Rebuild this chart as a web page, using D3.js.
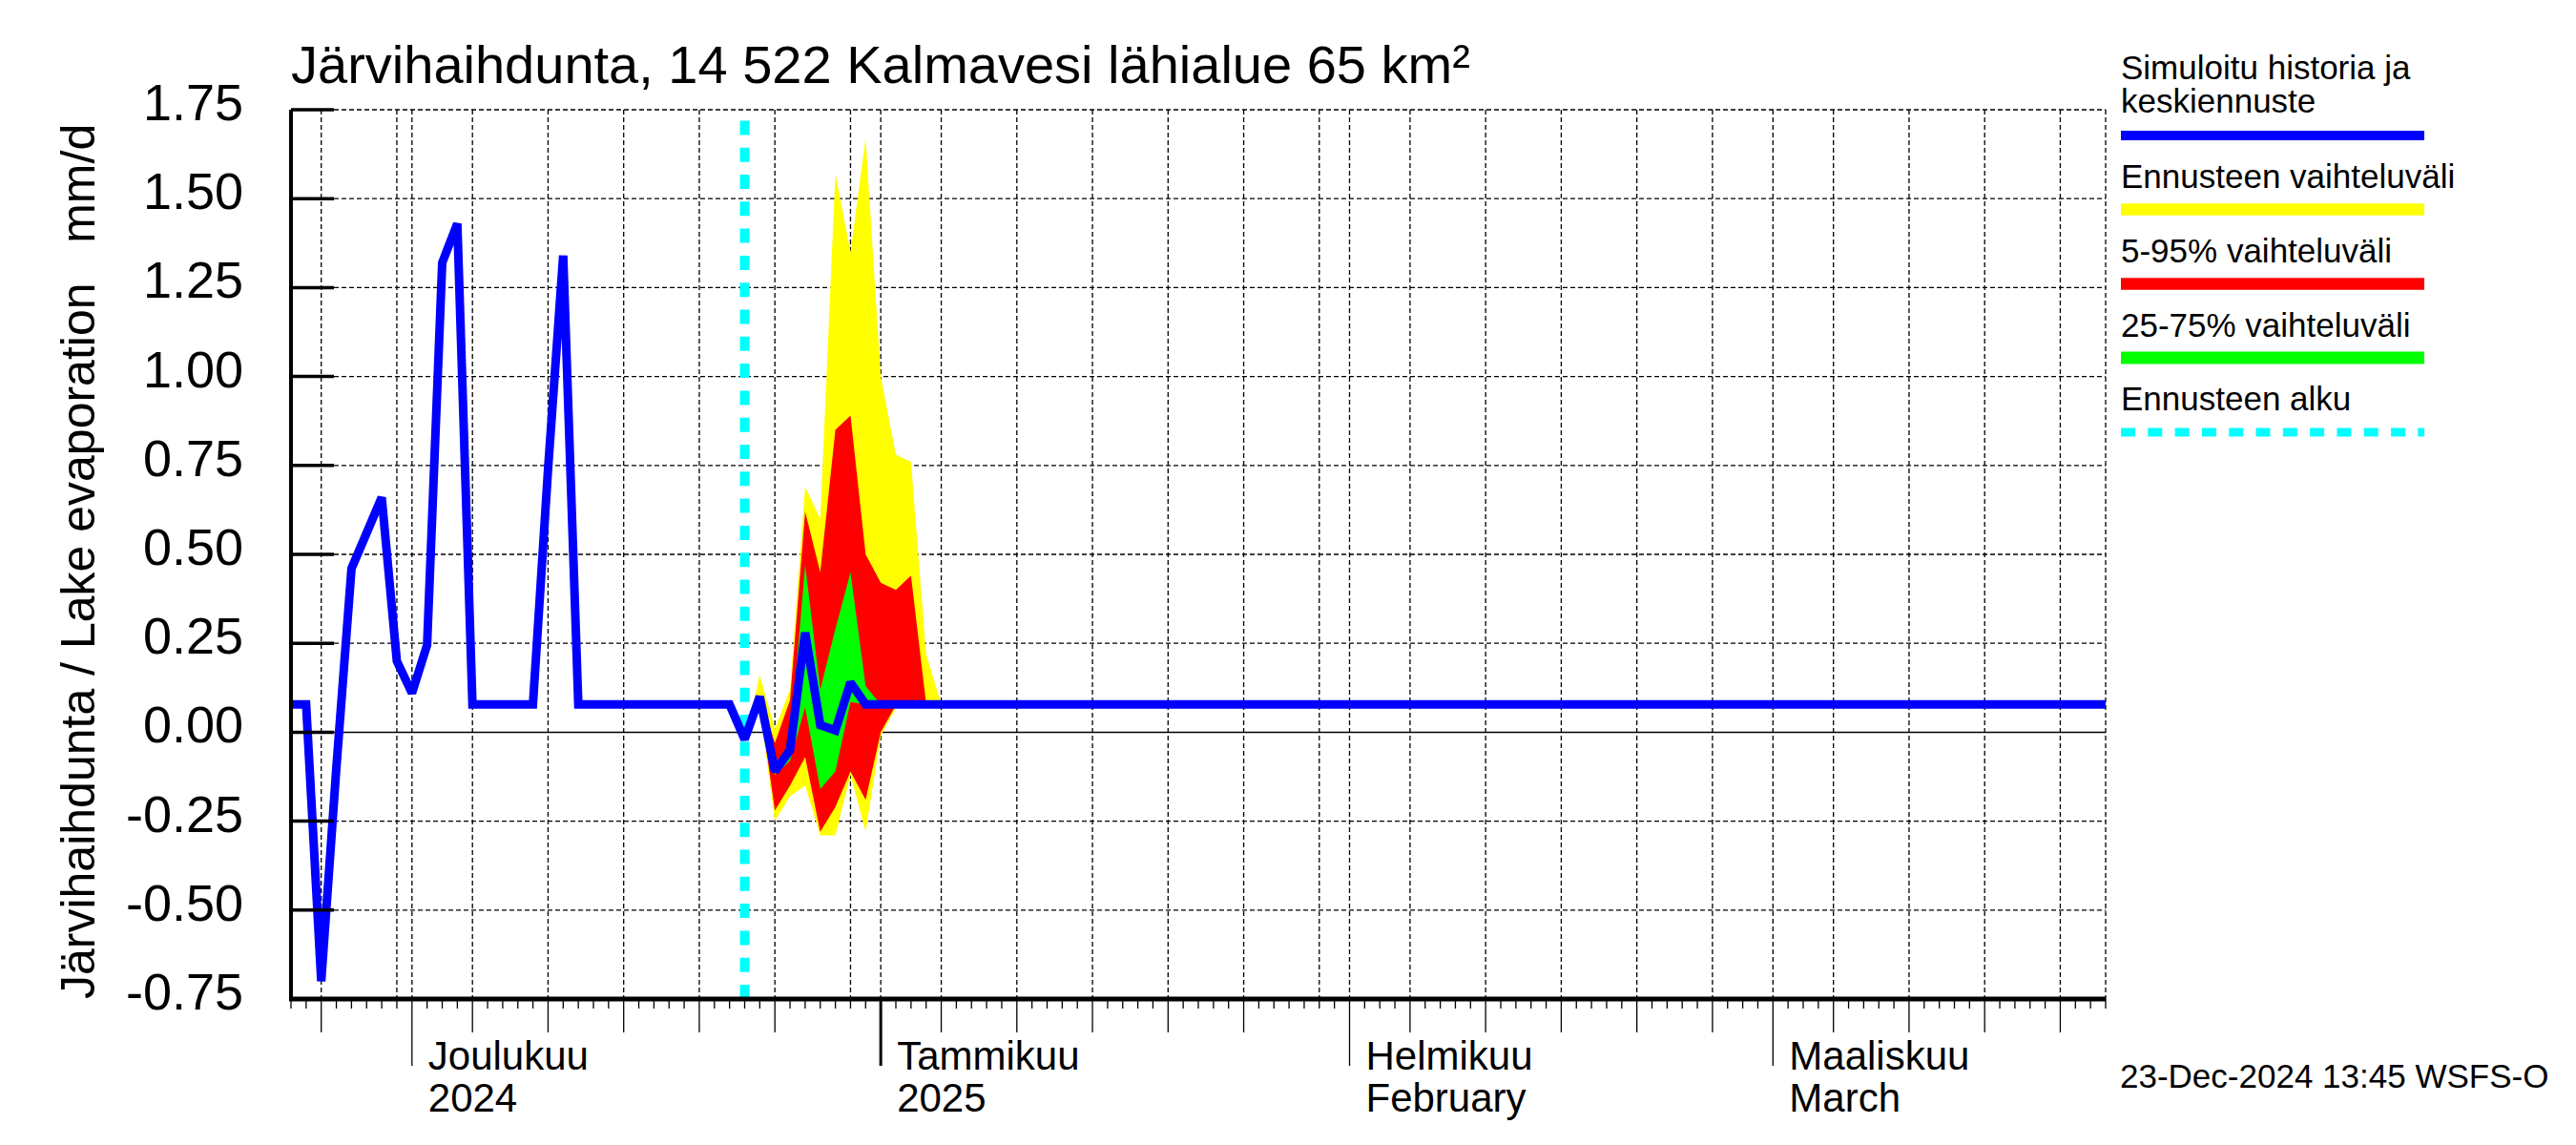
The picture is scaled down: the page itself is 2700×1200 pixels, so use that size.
<!DOCTYPE html>
<html>
<head>
<meta charset="utf-8">
<script src="https://cdn.jsdelivr.net/npm/d3@7"></script>
<style>
  body { margin: 0; background: #fff; }
  text { font-family: "Liberation Sans", Arial, Helvetica, sans-serif; fill: #000; }
</style>
</head>
<body>
<div id="chart"></div>
<script>
// simulated history + median forecast (mm/d)
var medianDates = ["2024-11-23", "2024-11-24", "2024-11-25", "2024-11-26", "2024-11-27",
    "2024-11-28", "2024-11-29", "2024-11-30", "2024-12-01", "2024-12-02", "2024-12-03",
    "2024-12-04", "2024-12-05", "2024-12-06", "2024-12-07", "2024-12-08", "2024-12-09",
    "2024-12-10", "2024-12-11", "2024-12-12", "2024-12-13", "2024-12-14", "2024-12-15",
    "2024-12-16", "2024-12-17", "2024-12-18", "2024-12-19", "2024-12-20", "2024-12-21",
    "2024-12-22", "2024-12-23", "2024-12-24", "2024-12-25", "2024-12-26", "2024-12-27",
    "2024-12-28", "2024-12-29", "2024-12-30", "2024-12-31", "2025-01-01", "2025-03-23"];
var medianValues = [0.078, 0.078, -0.70, -0.10, 0.46,
    0.56, 0.66, 0.20, 0.11, 0.245, 1.32,
    1.43, 0.078, 0.078, 0.078, 0.078, 0.078,
    0.74, 1.34, 0.078, 0.078, 0.078, 0.078,
    0.078, 0.078, 0.078, 0.078, 0.078, 0.078,
    0.078, -0.02, 0.10, -0.11, -0.05, 0.28,
    0.02, 0.005, 0.14, 0.078, 0.078, 0.078];

// forecast spread
var fcDates = ["2024-12-23", "2024-12-24", "2024-12-25", "2024-12-26", "2024-12-27",
    "2024-12-28", "2024-12-29", "2024-12-30", "2024-12-31", "2025-01-01", "2025-01-02",
    "2025-01-03", "2025-01-04", "2025-01-05"];
var yellowHi = [-0.02, 0.16, 0.01, 0.12, 0.69, 0.60, 1.57, 1.35, 1.67, 1.00, 0.78, 0.76, 0.22, 0.078];
var yellowLo = [-0.03, 0.07, -0.25, -0.18, -0.15, -0.29, -0.29, -0.12, -0.28, -0.01, 0.068, 0.078, 0.078, 0.078];
var redHi    = [-0.02, 0.10, -0.03, 0.09, 0.62, 0.45, 0.85, 0.89, 0.50, 0.42, 0.40, 0.44, 0.08, 0.078];
var redLo    = [-0.02, 0.08, -0.22, -0.15, -0.07, -0.28, -0.21, -0.11, -0.19, 0.00, 0.076, 0.078, 0.078, 0.078];
var greenHi  = [-0.02, 0.10, -0.09, -0.03, 0.47, 0.12, 0.29, 0.45, 0.13, 0.078, 0.078, 0.078, 0.078, 0.078];
var greenLo  = [-0.02, 0.10, -0.12, -0.08, 0.07, -0.16, -0.11, 0.085, 0.078, 0.078, 0.078, 0.078, 0.078, 0.078];

var forecastStart = "2024-12-23";

var yTicks = [-0.75, -0.5, -0.25, 0, 0.25, 0.5, 0.75, 1, 1.25, 1.5, 1.75];
var monthStarts = ["2024-12-01", "2025-01-01", "2025-02-01", "2025-03-01"];
var monthLabels1 = ["Joulukuu", "Tammikuu", "Helmikuu", "Maaliskuu"];
var monthLabels2 = ["2024", "2025", "February", "March"];

var legendLabels = [["Simuloitu historia ja", "keskiennuste"], ["Ennusteen vaihteluväli"],
    ["5-95% vaihteluväli"], ["25-75% vaihteluväli"], ["Ennusteen alku"]];
var legendColors = ["#0000ff", "#ffff00", "#ff0000", "#00ff00", "#00ffff"];

var titleText = "Järvihaihdunta, 14 522 Kalmavesi lähialue 65 km²";
var yLabelText = "Järvihaihdunta / Lake evaporation   mm/d";
var stampText = "23-Dec-2024 13:45 WSFS-O";

var W = 2700, H = 1200;
var pL = 305, pR = 2207, pT = 115, pB = 1047;

var parse = d3.utcParse("%Y-%m-%d");
var fmt = d3.formatLocale({decimal: ".", thousands: ",", grouping: [3], currency: ["", ""], minus: "-"}).format(".2f");

var svg = d3.select("#chart").append("svg")
    .attr("width", W).attr("height", H)
    .style("background", "#fff");

var x = d3.scaleUtc()
    .domain([parse("2024-11-23"), parse("2025-03-23")])
    .range([pL, pR]);
var y = d3.scaleLinear()
    .domain([-0.75, 1.75])
    .range([pB, pT]);

// grid
var days = d3.utcDay.range(x.domain()[0], d3.utcDay.offset(x.domain()[1], 1));
var gridDays = days.filter(function (d) {
    var n = d.getUTCDate();
    return n === 1 || n === 5 || n === 10 || n === 15 || n === 20 || n === 25 || n === 30;
});
svg.append("g").selectAll("line").data(gridDays).join("line")
    .attr("x1", function (d) { return x(d); }).attr("x2", function (d) { return x(d); })
    .attr("y1", pT).attr("y2", pB)
    .attr("stroke", "#000").attr("stroke-width", 1.3).attr("stroke-dasharray", "5,3");
svg.append("line")
    .attr("x1", pR).attr("x2", pR).attr("y1", pT).attr("y2", pB)
    .attr("stroke", "#000").attr("stroke-width", 1.3).attr("stroke-dasharray", "5,3");
svg.append("g").selectAll("line").data(yTicks.filter(function (v) { return v !== 0; })).join("line")
    .attr("x1", pL + 45).attr("x2", pR)
    .attr("y1", function (d) { return y(d); }).attr("y2", function (d) { return y(d); })
    .attr("stroke", "#000").attr("stroke-width", 1.3).attr("stroke-dasharray", "5,3");
svg.append("line")
    .attr("x1", pL).attr("x2", pR).attr("y1", y(0)).attr("y2", y(0))
    .attr("stroke", "#000").attr("stroke-width", 1.5);

// forecast bands
function band(lo, hi, color) {
    var rows = fcDates.map(function (d, i) { return {d: parse(d), lo: lo[i], hi: hi[i]}; });
    var area = d3.area()
        .x(function (r) { return x(r.d); })
        .y0(function (r) { return y(r.lo); })
        .y1(function (r) { return y(r.hi); });
    svg.append("path").datum(rows).attr("d", area).attr("fill", color);
}
band(yellowLo, yellowHi, "#ffff00");
band(redLo, redHi, "#ff0000");
band(greenLo, greenHi, "#00ff00");

// forecast start
svg.append("line")
    .attr("x1", x(parse(forecastStart))).attr("x2", x(parse(forecastStart)))
    .attr("y1", pB).attr("y2", pT)
    .attr("stroke", "#00ffff").attr("stroke-width", 10).attr("stroke-dasharray", "15,13.3");

// median line
var medRows = medianDates.map(function (d, i) { return {d: parse(d), v: medianValues[i]}; });
svg.append("path").datum(medRows)
    .attr("d", d3.line().x(function (r) { return x(r.d); }).y(function (r) { return y(r.v); }))
    .attr("fill", "none").attr("stroke", "#0000ff").attr("stroke-width", 9)
    .attr("stroke-linejoin", "miter").attr("stroke-miterlimit", 2);

// axes
svg.append("line").attr("x1", pL).attr("x2", pL).attr("y1", pT).attr("y2", pB + 2)
    .attr("stroke", "#000").attr("stroke-width", 4);
svg.append("line").attr("x1", pL - 2).attr("x2", pR).attr("y1", pB).attr("y2", pB)
    .attr("stroke", "#000").attr("stroke-width", 5);

svg.append("g").selectAll("line").data(yTicks).join("line")
    .attr("x1", pL).attr("x2", pL + 45)
    .attr("y1", function (d) { return y(d); }).attr("y2", function (d) { return y(d); })
    .attr("stroke", "#000").attr("stroke-width", 3.5);
svg.append("g").selectAll("text").data(yTicks).join("text")
    .attr("x", 255).attr("y", function (d) { return y(d) + 11; })
    .attr("text-anchor", "end").attr("font-size", 54)
    .text(function (d) { return fmt(d); });

// x ticks: daily, 5-day, month
svg.append("g").selectAll("line").data(days).join("line")
    .attr("x1", function (d) { return x(d); }).attr("x2", function (d) { return x(d); })
    .attr("y1", pB).attr("y2", function (d) {
        var n = d.getUTCDate();
        if (n === 1) return pB + 70;
        if (n % 5 === 0 && n <= 25) return pB + 35;
        return pB + 10;
    })
    .attr("stroke", "#000")
    .attr("stroke-width", function (d) {
        return (d.getUTCDate() === 1 && d.getUTCMonth() === 0) ? 3 : 1.3;
    });

var ml = svg.append("g").selectAll("g").data(monthStarts).join("g");
ml.append("text").attr("x", function (d) { return x(parse(d)) + 17; }).attr("y", 1121)
    .attr("font-size", 42).text(function (d, i) { return monthLabels1[i]; });
ml.append("text").attr("x", function (d) { return x(parse(d)) + 17; }).attr("y", 1165)
    .attr("font-size", 42).text(function (d, i) { return monthLabels2[i]; });

// title and axis label
svg.append("text").attr("x", 305).attr("y", 87).attr("font-size", 56).text(titleText);
svg.append("text")
    .attr("transform", "translate(99,1047) rotate(-90)")
    .attr("font-size", 50).attr("xml:space", "preserve")
    .style("white-space", "pre")
    .text(yLabelText);

// legend
var legY = [83, 197, 275, 353, 430];
var legLineY = [142, 219.5, 297.5, 375, 453];
var legW = [10, 12.5, 12.5, 13, 9];
legendLabels.forEach(function (lines, i) {
    lines.forEach(function (t, j) {
        svg.append("text").attr("x", 2223).attr("y", legY[i] + j * 35)
            .attr("font-size", 35).text(t);
    });
    var ln = svg.append("line")
        .attr("x1", 2223).attr("x2", 2541)
        .attr("y1", legLineY[i]).attr("y2", legLineY[i])
        .attr("stroke", legendColors[i]).attr("stroke-width", legW[i]);
    if (i === 4) ln.attr("stroke-dasharray", "15,13.3");
});

svg.append("text").attr("x", 2222).attr("y", 1140).attr("font-size", 35).text(stampText);
</script>
</body>
</html>
